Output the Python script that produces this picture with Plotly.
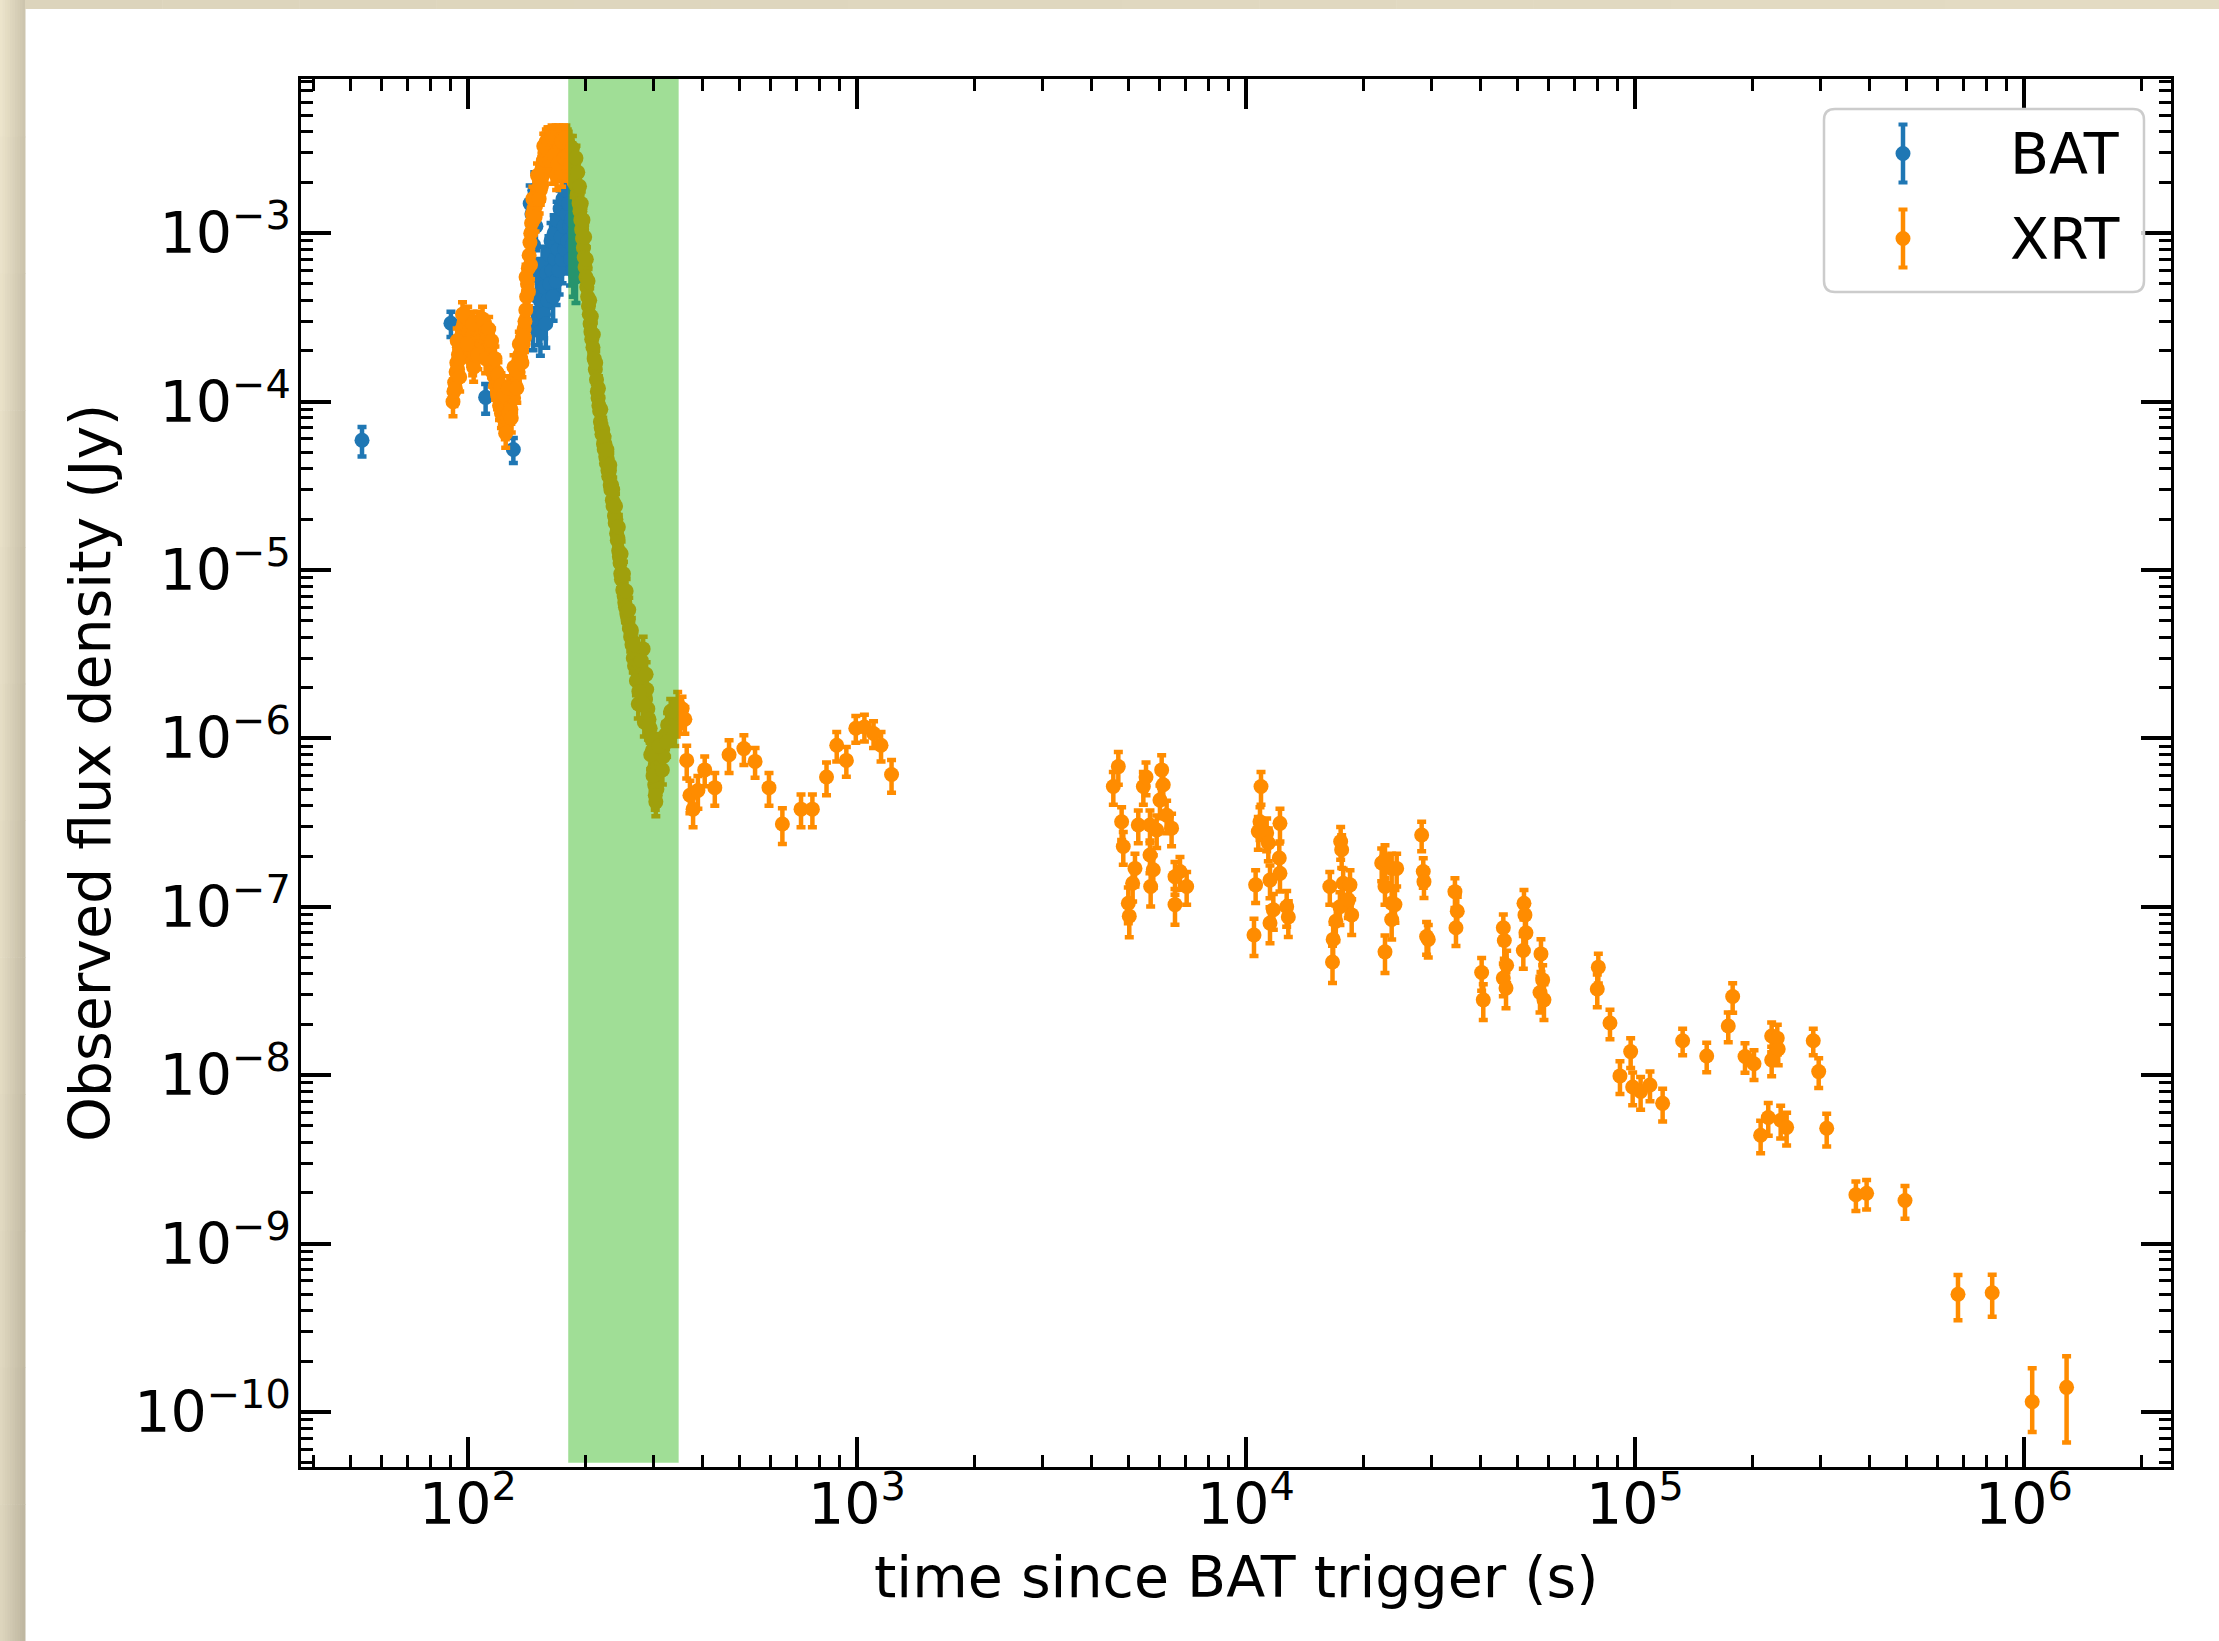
import plotly.graph_objects as go

# ---------------------------------------------------------------- data
# Swift/BAT light curve (time since trigger [s], flux density [Jy], fractional error)
bat_time = [53.4, 90.4, 111.0, 130.8,
            144.5, 146.0, 147.0, 147.5, 148.5, 149.5,
            150.5, 151.5, 152.5, 153.5, 154.5, 155.5, 156.5, 157.5, 158.5, 159.5,
            160.5, 161.5, 162.5, 163.5, 164.5, 165.5, 166.5, 167.5, 168.5, 169.5,
            170.5, 171.5, 172.5, 173.5, 174.5, 175.5, 176.5, 177.5, 178.5, 179.5,
            180.5, 181.5, 182.5, 183.5, 184.5, 185.5, 186.5, 187.5, 188.5, 189.5, 190.5]
bat_flux = [5.9e-5, 2.92e-4, 1.06e-4, 5.2e-5,
            1.5e-3, 1.3e-3, 2.8e-4, 8.5e-4, 1.8e-3, 1.1e-3,
            4.2e-4, 3.0e-4, 5.5e-4, 2.6e-4, 4.0e-4, 6.5e-4, 3.3e-4, 4.8e-4, 2.9e-4, 5.8e-4,
            4.0e-4, 7.5e-4, 5.0e-4, 9.0e-4, 6.0e-4, 4.2e-4, 1.0e-3, 7.0e-4, 5.2e-4, 1.2e-3,
            8.0e-4, 6.0e-4, 1.4e-3, 9.5e-4, 7.0e-4, 1.6e-3, 1.1e-3, 8.0e-4, 1.8e-3, 1.3e-3,
            9.0e-4, 1.5e-3, 1.1e-3, 7.0e-4, 1.2e-3, 8.5e-4, 6.0e-4, 1.0e-3, 7.5e-4, 5.5e-4, 8.0e-4]
bat_rel_err = [0.20, 0.17, 0.20, 0.17,
               0.28, 0.28, 0.28, 0.28, 0.28, 0.28,
               0.28, 0.28, 0.28, 0.28, 0.28, 0.28, 0.28, 0.28, 0.28, 0.28,
               0.28, 0.28, 0.28, 0.28, 0.28, 0.28, 0.28, 0.28, 0.28, 0.28,
               0.28, 0.28, 0.28, 0.28, 0.28, 0.28, 0.28, 0.28, 0.28, 0.28,
               0.30, 0.30, 0.30, 0.30, 0.30, 0.30, 0.30, 0.30, 0.30, 0.30, 0.30]

# Swift/XRT windowed-timing data (fractional error is about the same for every bin)
xrt_wt_time = [91.5, 92.0, 92.4, 92.8, 93.2, 93.6, 94.0, 94.5, 95.0, 95.5,
               96.0, 96.5, 97.0, 97.5, 98.0, 98.6, 99.2, 99.8, 100.4, 101.0,
               101.6, 102.2, 102.8, 103.4, 104.0, 104.6, 105.2, 105.8, 106.4, 107.0,
               107.6, 108.2, 108.8, 109.4, 110.0, 110.7, 111.4, 112.1, 112.8, 113.5,
               114.2, 114.9, 115.6, 116.3, 117.0, 117.7, 118.4, 119.1, 119.8, 120.5,
               121.2, 121.9, 122.6, 123.3, 124.0, 124.7, 125.4, 126.1, 126.8, 127.5,
               128.2, 128.9, 129.6, 130.3, 131.0, 131.7, 132.4, 133.1, 133.8, 134.5,
               135.2, 135.9, 136.6, 137.3, 138.0, 138.7, 139.4, 140.1, 140.8, 141.5,
               142.2, 142.9, 143.6, 144.3, 145.0, 145.7, 146.4, 147.1, 147.8, 148.5,
               149.2, 149.9, 150.6, 151.3, 152.0, 152.7, 153.4, 154.1, 154.8, 155.5,
               156.2, 156.9, 157.6, 158.3, 159.0, 160.0, 161.0, 162.0, 163.0, 164.0,
               165.0, 166.0, 167.0, 168.0, 169.0, 170.0, 171.0, 172.0, 173.0, 174.0,
               175.0, 176.0, 177.0, 178.0, 179.0, 180.0, 181.0, 182.0, 183.0, 184.0,
               185.0, 186.0, 187.0, 188.0, 189.0, 190.0, 191.0, 192.0, 193.0, 194.0,
               195.0, 196.0, 197.0, 198.0, 199.0, 200.0, 201.0, 202.0, 203.0, 204.0,
               205.0, 206.0, 207.0, 208.0, 209.5, 211.0, 212.5, 214.0, 215.0, 216.0,
               217.0, 218.0, 219.0, 220.0, 221.0, 222.0, 223.0, 224.0, 225.0, 226.0,
               227.0, 228.0, 229.0, 230.0, 231.0, 232.0, 233.0, 234.0, 235.0, 236.0,
               237.0, 238.0, 239.0, 240.0, 241.0, 242.0, 243.0, 244.0, 245.0, 246.0,
               247.0, 248.0, 249.0, 250.0, 252.0, 253.0, 254.0, 256.0, 258.0, 260.0,
               262.0, 264.0, 266.0, 268.0, 270.0, 272.0, 274.0, 276.0, 278.0, 280.0,
               282.0, 284.0, 286.0, 288.0, 290.0, 292.0, 294.0, 296.0, 298.0, 300.0,
               302.0, 304.0, 306.0, 308.0, 311.0, 314.0, 318.0, 322.0, 326.0, 330.0,
               334.0, 338.0, 343.0, 348.0, 355.0, 361.0,
               93.8, 95.2, 96.8, 99.5, 103.0, 106.0, 109.0, 111.0, 113.0, 115.0,
               117.3, 119.4, 121.5, 123.6, 125.0, 127.0, 129.2, 131.3, 133.5, 135.5,
               137.6, 139.7, 141.0, 143.0, 144.8, 146.8, 148.8, 150.9, 152.4, 154.4,
               156.6, 158.7, 160.5, 162.5, 164.5, 166.5, 168.5, 170.5, 172.5, 174.5,
               176.5, 178.5, 180.5, 183.5, 185.5, 187.5, 189.5, 191.5, 193.5, 195.5,
               197.5, 199.5, 201.5, 203.5, 205.5, 207.5, 210.0, 213.0, 216.5, 219.5,
               223.5, 227.5, 231.5, 235.5, 239.5, 243.5, 247.5, 251.0, 255.0, 259.0,
               263.0, 267.0, 271.0, 275.0, 279.0, 283.0, 287.0, 291.0, 295.0, 299.0,
               303.0, 309.0, 316.0, 324.0, 332.0, 340.0, 346.0]
xrt_wt_flux = [1.0e-4, 1.15e-4, 1.3e-4, 1.2e-4, 1.5e-4, 1.7e-4, 1.55e-4, 1.9e-4, 2.1e-4, 1.8e-4,
               2.4e-4, 2.7e-4, 2.3e-4, 2.9e-4, 3.0e-4, 2.5e-4, 2.8e-4, 3.1e-4, 2.6e-4, 2.2e-4,
               2.0e-4, 2.4e-4, 1.75e-4, 1.6e-4, 1.9e-4, 2.3e-4, 2.7e-4, 2.9e-4, 2.6e-4, 2.3e-4,
               2.8e-4, 2.5e-4, 2.2e-4, 2.6e-4, 2.4e-4, 2.7e-4, 2.3e-4, 2.5e-4, 2.1e-4, 1.9e-4,
               2.2e-4, 1.7e-4, 1.5e-4, 1.8e-4, 1.4e-4, 1.25e-4, 1.5e-4, 1.1e-4, 1.3e-4, 9.5e-5,
               1.15e-4, 8.5e-5, 1.0e-4, 8.0e-5, 9.0e-5, 7.3e-5, 8.2e-5, 8.0e-5, 9.5e-5, 8.5e-5,
               1.0e-4, 9.0e-5, 1.1e-4, 1.2e-4, 1.05e-4, 1.3e-4, 1.25e-4, 1.45e-4, 1.6e-4, 1.5e-4,
               1.75e-4, 1.9e-4, 1.8e-4, 2.1e-4, 2.4e-4, 2.2e-4, 2.7e-4, 3.0e-4, 3.5e-4, 4.2e-4,
               5.0e-4, 6.2e-4, 7.4e-4, 8.8e-4, 1.0e-3, 1.15e-3, 1.3e-3, 1.2e-3, 1.4e-3, 1.55e-3,
               1.45e-3, 1.6e-3, 1.75e-3, 1.6e-3, 1.85e-3, 2.0e-3, 1.8e-3, 2.2e-3, 2.4e-3, 2.2e-3,
               2.7e-3, 2.5e-3, 3.0e-3, 3.3e-3, 3.5e-3, 3.3e-3, 3.6e-3, 3.0e-3, 3.6e-3, 3.4e-3,
               2.4e-3, 3.5e-3, 3.2e-3, 3.6e-3, 2.2e-3, 3.5e-3, 3.7e-3, 3.3e-3, 3.6e-3, 2.3e-3,
               3.5e-3, 3.7e-3, 3.4e-3, 3.6e-3, 2.5e-3, 3.5e-3, 3.4e-3, 3.0e-3, 3.2e-3, 2.7e-3,
               2.9e-3, 2.4e-3, 2.6e-3, 2.1e-3, 2.3e-3, 1.9e-3, 1.7e-3, 1.9e-3, 1.5e-3, 1.35e-3,
               1.2e-3, 1.05e-3, 9.3e-4, 8.2e-4, 7.2e-4, 6.3e-4, 5.5e-4, 4.8e-4, 4.2e-4, 3.7e-4,
               3.3e-4, 2.9e-4, 2.6e-4, 2.35e-4, 2.1e-4, 1.8e-4, 1.55e-4, 1.35e-4, 1.15e-4, 1.05e-4,
               9.5e-5, 8.8e-5, 7.6e-5, 7.0e-5, 6.4e-5, 6.8e-5, 5.6e-5, 5.2e-5, 5.6e-5, 4.7e-5,
               4.3e-5, 4.6e-5, 3.9e-5, 3.6e-5, 3.9e-5, 3.2e-5, 3.0e-5, 3.2e-5, 2.6e-5, 2.4e-5,
               2.5e-5, 2.1e-5, 1.9e-5, 2.0e-5, 1.65e-5, 1.5e-5, 1.55e-5, 1.3e-5, 1.2e-5, 1.1e-5,
               9.5e-6, 8.8e-6, 9.2e-6, 7.6e-6, 7.0e-6, 6.4e-6, 6.0e-6, 5.5e-6, 5.0e-6, 4.5e-6,
               4.0e-6, 3.6e-6, 3.0e-6, 2.7e-6, 3.3e-6, 2.5e-6, 1.6e-6, 2.8e-6, 1.9e-6, 2.4e-6,
               3.4e-6, 1.25e-6, 1.7e-6, 1.95e-6, 1.5e-6, 1.3e-6, 1.15e-6, 1.0e-6, 8.5e-7, 6.5e-7,
               5.3e-7, 4.2e-7, 5.0e-7, 6.8e-7, 7.5e-7, 8.0e-7, 7.8e-7, 1.05e-6, 1.2e-6, 1.15e-6,
               1.3e-6, 1.35e-6, 1.25e-6, 1.4e-6, 1.5e-6, 1.3e-6,
               2.3e-4, 1.4e-4, 3.3e-4, 2.2e-4, 2.9e-4, 1.9e-4, 3.1e-4, 1.8e-4, 2.7e-4, 2.3e-4,
               1.8e-4, 1.45e-4, 1.25e-4, 1.1e-4, 6.5e-5, 1.2e-4, 8.0e-5, 1.6e-4, 1.2e-4, 2.2e-4,
               1.7e-4, 2.4e-4, 5.5e-4, 4.5e-4, 6.5e-4, 1.6e-3, 1.25e-3, 2.2e-3, 1.6e-3, 1.9e-3,
               3.3e-3, 2.7e-3, 3.6e-3, 2.7e-3, 3.7e-3, 2.9e-3, 3.7e-3, 2.6e-3, 3.6e-3, 3.5e-3,
               2.8e-3, 3.7e-3, 2.9e-3, 2.6e-3, 3.2e-3, 2.0e-3, 2.8e-3, 2.3e-3, 1.9e-3, 1.5e-3,
               1.2e-3, 9.5e-4, 7.0e-4, 5.2e-4, 4.0e-4, 3.2e-4, 2.5e-4, 1.7e-4, 1.2e-4, 9.0e-5,
               6.2e-5, 5.2e-5, 4.2e-5, 3.0e-5, 2.4e-5, 1.8e-5, 1.25e-5, 9.5e-6, 7.5e-6, 5.8e-6,
               4.4e-6, 3.6e-6, 2.2e-6, 1.9e-6, 2.9e-6, 1.6e-6, 2.4e-6, 1.2e-6, 8.0e-7, 6.0e-7,
               4.6e-7, 9.0e-7, 6.5e-7, 9.5e-7, 1.45e-6, 1.1e-6, 1.6e-6]
XRT_WT_REL_ERR = 0.18

# Swift/XRT photon-counting data (time [s], flux density [Jy], fractional errors up / down)
xrt_pc_time = [365, 372, 379, 390, 406, 431, 469, 512, 547, 594,
               643, 718, 768, 835, 887, 939, 993, 1045, 1103, 1153, 1227,
               4560, 4697, 4790, 4837, 4983, 5012, 5113, 5184, 5286, 5447,
               5534, 5665, 5665, 5688, 5777, 5894, 6010, 6071, 6129, 6252,
               6438, 6569, 6569, 6766, 7039,
               10486, 10588, 10757, 10865, 10930, 11303, 11413, 11528, 11528, 11757,
               12180, 12229, 12229, 12724, 12848,
               16424, 16690, 16755, 17020, 17440, 17515, 17620, 17775, 18323, 18511, 18696,
               22330, 22770, 22770, 22770, 23690, 23690, 23690, 24150, 24400,
               28290, 28560, 28680, 29130, 29420, 34450, 34930, 34660, 40350, 40740,
               45870, 46140, 46790, 45870, 46610, 51840, 52140, 52450, 51640, 57330,
               57910, 57000, 58350,
               80500, 80000, 86250, 97480, 91500, 98650, 103400, 109300, 117800, 132600,
               152900, 173700, 178300, 191800, 202300, 210400, 220100, 224600, 224600, 232200,
               233500, 236900, 245400, 287300, 296700, 311100, 369800, 394000, 494500, 676700,
               828600, 1.05e6, 1.287e6]
xrt_pc_flux = [7.4e-7, 4.6e-7, 3.8e-7, 4.9e-7, 6.5e-7, 5.1e-7, 8.0e-7, 8.7e-7, 7.3e-7, 5.1e-7,
               3.1e-7, 3.8e-7, 3.8e-7, 5.9e-7, 9.1e-7, 7.4e-7, 1.15e-6, 1.17e-6, 1.07e-6, 9.1e-7, 6.1e-7,
               5.18e-7, 6.8e-7, 3.2e-7, 2.28e-7, 1.05e-7, 8.8e-8, 1.38e-7, 1.69e-7, 3.06e-7, 5.18e-7,
               5.9e-7, 3.06e-7, 2.03e-7, 1.32e-7, 1.66e-7, 2.86e-7, 4.3e-7, 6.5e-7, 5.3e-7, 3.5e-7,
               2.93e-7, 1.51e-7, 1.03e-7, 1.62e-7, 1.32e-7,
               6.8e-8, 1.35e-7, 2.8e-7, 3.2e-7, 5.18e-7, 2.74e-7, 2.39e-7, 1.44e-7, 8.0e-8, 9.6e-8,
               1.95e-7, 3.13e-7, 1.58e-7, 1.0e-7, 8.7e-8,
               1.32e-7, 4.7e-8, 6.4e-8, 8.2e-8, 1.0e-7, 2.44e-7, 2.18e-7, 1.38e-7, 1.1e-7, 1.35e-7, 8.95e-8,
               1.82e-7, 1.9e-7, 1.32e-7, 5.4e-8, 1.69e-7, 1.05e-7, 8.4e-8, 1.03e-7, 1.69e-7,
               2.67e-7, 1.62e-7, 1.41e-7, 6.65e-8, 6.4e-8, 1.23e-7, 9.4e-8, 7.5e-8, 4.07e-8, 2.8e-8,
               7.5e-8, 6.3e-8, 4.5e-8, 3.77e-8, 3.29e-8, 1.05e-7, 8.95e-8, 7.0e-8, 5.5e-8, 5.25e-8,
               3.68e-8, 3.1e-8, 2.8e-8,
               4.38e-8, 3.25e-8, 2.04e-8, 1.38e-8, 9.9e-9, 8.5e-9, 8.0e-9, 8.75e-9, 6.8e-9, 1.6e-8,
               1.3e-8, 1.96e-8, 2.93e-8, 1.29e-8, 1.17e-8, 4.4e-9, 5.6e-9, 1.71e-8, 1.23e-8, 1.66e-8,
               1.43e-8, 5.4e-9, 4.9e-9, 1.6e-8, 1.05e-8, 4.84e-9, 1.95e-9, 1.99e-9, 1.8e-9, 5.0e-10,
               5.1e-10, 1.15e-10, 1.4e-10]
xrt_pc_err_up = [0.22, 0.22, 0.22, 0.22, 0.2, 0.22, 0.22, 0.2, 0.2, 0.22,
                 0.24, 0.22, 0.22, 0.22, 0.2, 0.2, 0.18, 0.18, 0.18, 0.2, 0.22,
                 0.22, 0.22, 0.22, 0.22, 0.24, 0.25, 0.22, 0.22, 0.22, 0.22,
                 0.22, 0.22, 0.22, 0.24, 0.22, 0.22, 0.22, 0.22, 0.22, 0.22,
                 0.22, 0.22, 0.24, 0.22, 0.22,
                 0.25, 0.22, 0.22, 0.22, 0.22, 0.22, 0.22, 0.22, 0.24, 0.24,
                 0.22, 0.22, 0.22, 0.24, 0.24,
                 0.22, 0.25, 0.24, 0.24, 0.22, 0.22, 0.22, 0.22, 0.22, 0.22, 0.24,
                 0.22, 0.22, 0.22, 0.25, 0.22, 0.22, 0.24, 0.22, 0.22,
                 0.2, 0.2, 0.2, 0.22, 0.22, 0.2, 0.22, 0.22, 0.22, 0.24,
                 0.2, 0.22, 0.22, 0.22, 0.24, 0.2, 0.2, 0.22, 0.22, 0.22,
                 0.22, 0.24, 0.24,
                 0.2, 0.22, 0.2, 0.2, 0.22, 0.22, 0.22, 0.2, 0.22, 0.18,
                 0.2, 0.2, 0.2, 0.2, 0.2, 0.22, 0.22, 0.2, 0.2, 0.2,
                 0.2, 0.22, 0.22, 0.18, 0.2, 0.22, 0.2, 0.2, 0.22, 0.3,
                 0.28, 0.58, 0.53]
xrt_pc_err_lo = [0.22, 0.22, 0.22, 0.22, 0.2, 0.22, 0.22, 0.2, 0.2, 0.22,
                 0.24, 0.22, 0.22, 0.22, 0.2, 0.2, 0.18, 0.18, 0.18, 0.2, 0.22,
                 0.22, 0.22, 0.22, 0.22, 0.24, 0.25, 0.22, 0.22, 0.22, 0.22,
                 0.22, 0.22, 0.22, 0.24, 0.22, 0.22, 0.22, 0.22, 0.22, 0.22,
                 0.22, 0.22, 0.24, 0.22, 0.22,
                 0.25, 0.22, 0.22, 0.22, 0.22, 0.22, 0.22, 0.22, 0.24, 0.24,
                 0.22, 0.22, 0.22, 0.24, 0.24,
                 0.22, 0.25, 0.24, 0.24, 0.22, 0.22, 0.22, 0.22, 0.22, 0.22, 0.24,
                 0.22, 0.22, 0.22, 0.25, 0.22, 0.22, 0.24, 0.22, 0.22,
                 0.2, 0.2, 0.2, 0.22, 0.22, 0.2, 0.22, 0.22, 0.22, 0.24,
                 0.2, 0.22, 0.22, 0.22, 0.24, 0.2, 0.2, 0.22, 0.22, 0.22,
                 0.22, 0.24, 0.24,
                 0.2, 0.22, 0.2, 0.2, 0.22, 0.22, 0.22, 0.2, 0.22, 0.18,
                 0.2, 0.2, 0.2, 0.2, 0.2, 0.22, 0.22, 0.2, 0.2, 0.2,
                 0.2, 0.22, 0.22, 0.18, 0.2, 0.22, 0.2, 0.2, 0.22, 0.3,
                 0.28, 0.34, 0.53]

# highlighted time window [s]
band_start, band_end = 181.0, 348.0
band_floor = 5e-11

x_range_log = [1.5707, 6.378]
y_range_log = [-10.327, -2.084]

# ---------------------------------------------------------------- style
FONT = "DejaVu Sans"
BAT_COLOR = "#1f77b4"
XRT_COLOR = "#ff8c00"
BAND_COLOR = "rgba(48,183,27,0.46)"

FIG_W, FIG_H = 2219, 1641
M_L, M_R, M_T, M_B = 301, 48, 79, 174
PLOT_W = FIG_W - M_L - M_R
PLOT_H = FIG_H - M_T - M_B


def px(x):
    """figure pixel column -> paper x"""
    return (x - M_L) / PLOT_W


def py(y):
    """figure pixel row -> paper y"""
    return (FIG_H - M_B - y) / PLOT_H


def abs_err(flux, rel):
    return [f * r for f, r in zip(flux, rel)]


fig = go.Figure()

marker_size = 15
err_style = dict(type="data", symmetric=False, thickness=4.5, width=4.5)

fig.add_trace(go.Scatter(
    x=bat_time, y=bat_flux, mode="markers",
    marker=dict(color=BAT_COLOR, size=marker_size, line=dict(width=0)),
    error_y=dict(err_style, array=abs_err(bat_flux, bat_rel_err),
                 arrayminus=abs_err(bat_flux, bat_rel_err), color=BAT_COLOR),
    showlegend=False, hoverinfo="skip"))

xrt_time = xrt_wt_time + xrt_pc_time
xrt_flux = xrt_wt_flux + xrt_pc_flux
xrt_up = [f * XRT_WT_REL_ERR for f in xrt_wt_flux] + abs_err(xrt_pc_flux, xrt_pc_err_up)
xrt_lo = [f * XRT_WT_REL_ERR for f in xrt_wt_flux] + abs_err(xrt_pc_flux, xrt_pc_err_lo)

fig.add_trace(go.Scatter(
    x=xrt_time, y=xrt_flux, mode="markers",
    marker=dict(color=XRT_COLOR, size=marker_size, line=dict(width=0)),
    error_y=dict(err_style, array=xrt_up, arrayminus=xrt_lo, color=XRT_COLOR),
    showlegend=False, hoverinfo="skip"))

# translucent time window drawn over the data
fig.add_trace(go.Scatter(
    x=[band_start, band_end, band_end, band_start, band_start],
    y=[band_floor, band_floor, 1.0, 1.0, band_floor],
    mode="lines", fill="toself", fillcolor=BAND_COLOR,
    line=dict(width=0, color="rgba(0,0,0,0)"),
    showlegend=False, hoverinfo="skip"))

axis_common = dict(
    type="log", showline=True, linecolor="black", linewidth=3,
    mirror="allticks", ticks="inside", ticklen=30, tickwidth=3.5,
    tickcolor="black", dtick=1, exponentformat="power",
    tickfont=dict(family=FONT, size=45.6, color="black"),
    showgrid=False, zeroline=False,
    minor=dict(ticks="inside", ticklen=12, tickwidth=2.5,
               tickcolor="black", dtick="D1", showgrid=False),
)

fig.update_layout(
    width=FIG_W, height=FIG_H,
    margin=dict(l=M_L, r=M_R, t=M_T, b=M_B, pad=0),
    paper_bgcolor="white", plot_bgcolor="white",
    font=dict(family=FONT, color="black"),
    showlegend=False,
    xaxis=dict(axis_common, range=x_range_log, ticklabelstandoff=-12),
    yaxis=dict(axis_common, range=y_range_log, ticklabelstandoff=-2),
)

shapes = []

# beige frame along the top and left edges
def mix(c0, c1, t):
    return "rgb({},{},{})".format(*[round(a + (b - a) * t) for a, b in zip(c0, c1)])

light = (238, 230, 205)
dark = (186, 178, 156)
n_cols, n_rows = 10, 12
strip_w = 25
for i in range(n_cols):
    for j in range(n_rows):
        x0 = strip_w * i / n_cols
        x1 = strip_w * (i + 1) / n_cols
        y0 = FIG_H * j / n_rows
        y1 = FIG_H * (j + 1) / n_rows
        t = 0.65 * (i + 0.5) / n_cols + 0.3 * (j + 0.5) / n_rows
        shapes.append(dict(type="rect", xref="paper", yref="paper",
                           x0=px(x0), x1=px(x1 + 0.5), y0=py(y1 + 0.5), y1=py(y0),
                           fillcolor=mix(light, dark, t), line=dict(width=0),
                           layer="below"))
n_top = 16
for i in range(n_top):
    x0 = strip_w + (FIG_W - strip_w) * i / n_top
    x1 = strip_w + (FIG_W - strip_w) * (i + 1) / n_top
    t = 0.35 - 0.15 * (i + 0.5) / n_top
    shapes.append(dict(type="rect", xref="paper", yref="paper",
                       x0=px(x0), x1=px(x1 + 0.5), y0=py(9), y1=py(0),
                       fillcolor=mix(light, dark, t), line=dict(width=0),
                       layer="below"))

# legend frame with rounded corners
def rounded_path(x0, y0, x1, y1, r):
    pts = [("M", x0 + r, y0), ("L", x1 - r, y0), ("Q", x1, y0, x1, y0 + r),
           ("L", x1, y1 - r), ("Q", x1, y1, x1 - r, y1), ("L", x0 + r, y1),
           ("Q", x0, y1, x0, y1 - r), ("L", x0, y0 + r), ("Q", x0, y0, x0 + r, y0)]
    out = []
    for p in pts:
        cmd, coords = p[0], p[1:]
        vals = []
        for k in range(0, len(coords), 2):
            vals.append(f"{px(coords[k]):.5f},{py(coords[k + 1]):.5f}")
        out.append(cmd + " " + " ".join(vals))
    return " ".join(out) + " Z"

shapes.append(dict(type="path", xref="paper", yref="paper",
                   path=rounded_path(1824, 109, 2144, 292, 11),
                   fillcolor="rgba(255,255,255,0.8)",
                   line=dict(color="#cccccc", width=2.5), layer="above"))

legend_entries = [("BAT", BAT_COLOR, 153.5), ("XRT", XRT_COLOR, 238.5)]
annotations = []
hx = 1903
for label, color, cy in legend_entries:
    shapes.append(dict(type="line", xref="paper", yref="paper",
                       x0=px(hx), x1=px(hx), y0=py(cy - 29), y1=py(cy + 29),
                       line=dict(color=color, width=4.5), layer="above"))
    for cap in (cy - 29, cy + 29):
        shapes.append(dict(type="line", xref="paper", yref="paper",
                           x0=px(hx - 4.5), x1=px(hx + 4.5), y0=py(cap), y1=py(cap),
                           line=dict(color=color, width=4), layer="above"))
    shapes.append(dict(type="circle", xref="paper", yref="paper",
                       x0=px(hx - 7.5), x1=px(hx + 7.5), y0=py(cy + 7.5), y1=py(cy - 7.5),
                       fillcolor=color, line=dict(width=0), layer="above"))
    annotations.append(dict(text=label, xref="paper", yref="paper",
                            x=px(2008), y=py(cy), xanchor="left", yanchor="middle",
                            showarrow=False, font=dict(family=FONT, size=57, color="black")))

# axis titles
annotations.append(dict(text="time since BAT trigger (s)", xref="paper", yref="paper",
                        x=px(1236), y=py(1577), xanchor="center", yanchor="middle",
                        showarrow=False, font=dict(family=FONT, size=57, color="black")))
annotations.append(dict(text="Observed flux density (Jy)", xref="paper", yref="paper",
                        x=px(90), y=py(773), xanchor="center", yanchor="middle",
                        textangle=-90, showarrow=False,
                        font=dict(family=FONT, size=57, color="black")))

fig.update_layout(shapes=shapes, annotations=annotations)

fig.write_html("out.html")
